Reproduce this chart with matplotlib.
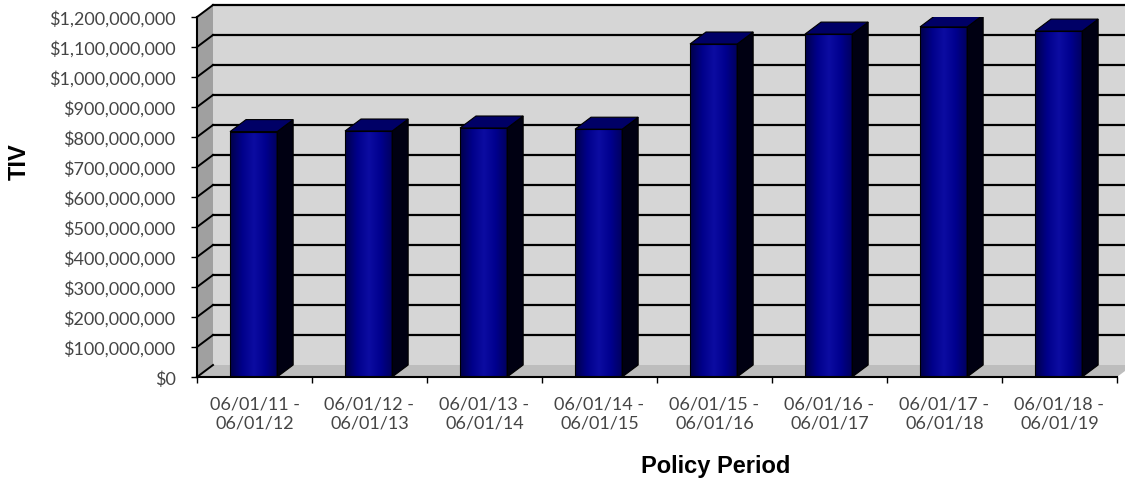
import numpy as np
import matplotlib
matplotlib.use('Agg')
import matplotlib.pyplot as plt
from matplotlib.patches import Polygon, Rectangle
from matplotlib.colors import LinearSegmentedColormap

# data
periods = ['06/01/11 -\n06/01/12', '06/01/12 -\n06/01/13', '06/01/13 -\n06/01/14',
           '06/01/14 -\n06/01/15', '06/01/15 -\n06/01/16', '06/01/16 -\n06/01/17',
           '06/01/17 -\n06/01/18', '06/01/18 -\n06/01/19']
tiv = [818e6, 820e6, 830e6, 826e6, 1110e6, 1143e6, 1167e6, 1153e6]
y_ticks = np.arange(0, 1.2e9 + 1, 1e8)

W, H = 1125, 485
fig = plt.figure(figsize=(W / 100, H / 100), dpi=100)
ax = fig.add_axes([197 / W, 1 - 378 / H, 920 / W, 360 / H])
n = len(tiv)
ymax = 1.2e9
ax.set_xlim(0, n)
ax.set_ylim(0, ymax)
ax.set_facecolor('none')

# depth offset of the fake 3d (in data units)
dx = 16 / 115
dy = 12 / 360 * ymax

# back wall
ax.add_patch(Rectangle((dx, dy), n, ymax, fc='#d6d6d6', ec='none', clip_on=False, zorder=0))
for v in y_ticks[1:]:
    ax.plot([dx, n + dx], [v + dy, v + dy], color='black', lw=1.6, clip_on=False, zorder=1)
# side wall
ax.add_patch(Polygon([(0, 0), (dx, dy), (dx, ymax + dy), (0, ymax)], closed=True,
                     fc='#a0a0a0', ec='none', clip_on=False, zorder=0.5))
for v in y_ticks:
    ax.plot([0, dx], [v, v + dy], color='black', lw=1.4, clip_on=False, zorder=1)
# floor
ax.add_patch(Polygon([(0, 0), (n, 0), (n + dx, dy), (dx, dy)], closed=True,
                     fc='#bdbdbd', ec='none', clip_on=False, zorder=0.5))

# bars
face = LinearSegmentedColormap.from_list('face', ['#00004a', '#00008a', '#0c0ca2', '#00008e', '#00005c'])
grad = np.linspace(0, 1, 64).reshape(1, -1)
bw = 0.41
off = 0.287
for i, v in enumerate(tiv):
    x0 = i + off
    x1 = x0 + bw
    ax.imshow(grad, cmap=face, extent=(x0, x1, 0, v), aspect='auto', zorder=3, origin='lower')
    ax.add_patch(Rectangle((x0, 0), bw, v, fc='none', ec='black', lw=0.8, zorder=4))
    ax.add_patch(Polygon([(x1, 0), (x1 + dx, dy), (x1 + dx, v + dy), (x1, v)], closed=True,
                         fc='#000012', ec='black', lw=0.8, zorder=3))
    ax.add_patch(Polygon([(x0, v), (x1, v), (x1 + dx, v + dy), (x0 + dx, v + dy)], closed=True,
                         fc='#000066', ec='black', lw=0.8, zorder=3))
ax.set_xlim(0, n)
ax.set_ylim(0, ymax)
ax.set_aspect('auto')

# axes styling
for s in ['top', 'right']:
    ax.spines[s].set_visible(False)
for s in ['left', 'bottom']:
    ax.spines[s].set_linewidth(1.5)
    ax.spines[s].set_zorder(5)

lab_font = dict(family='Lato', size=13, color='#454545')
ax.set_yticks(y_ticks)
ax.set_yticklabels(['${:,.0f}'.format(v) for v in y_ticks], **lab_font)
ax.tick_params(axis='y', length=4.5, width=1, pad=11)

ax.set_xticks(np.arange(n + 1))
ax.set_xticklabels([])
ax.tick_params(axis='x', which='major', length=4.5, width=1)
ax.set_xticks(np.arange(n) + 0.5, minor=True)
ax.set_xticklabels(periods, minor=True, linespacing=1.3, **lab_font)
ax.tick_params(axis='x', which='minor', length=0, pad=13)

fig.text(19 / W, 1 - 162 / H, 'TIV', rotation=90, ha='center', va='center',
         family='Liberation Sans', weight='bold', size=17)
fig.text(716 / W, 1 - 467 / H, 'Policy Period', ha='center', va='center',
         family='Liberation Sans', weight='bold', size=17)

fig.savefig('out.png', dpi=100)
